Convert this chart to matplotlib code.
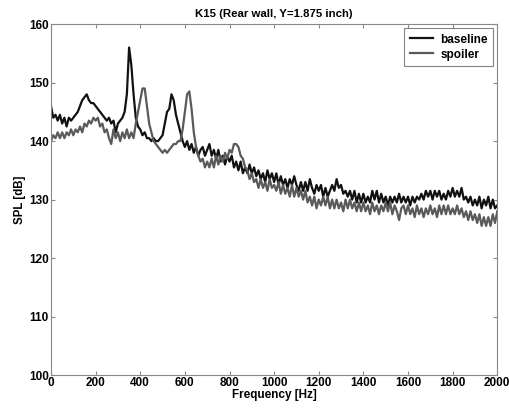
import numpy as np
import matplotlib
matplotlib.use("Agg")
import matplotlib.pyplot as plt

plt.rcParams['font.family'] = ['Liberation Sans', 'DejaVu Sans']
plt.rcParams['font.weight'] = 'bold'

freq = np.arange(0, 2001, 10)

baseline = [
    146, 144, 144.5, 143.5, 144.5, 143, 144, 142.5, 144, 143.5,
    144, 144.5, 145, 146, 147, 147.5, 148, 147, 146.5, 146.5,
    146, 145.5, 145, 144.5, 144, 143.5, 144, 143, 143.5, 141.5,
    143, 143.5, 144, 145, 148, 156, 153, 148, 144, 142.5,
    142, 141, 141.5, 140.5, 140.5, 140, 140.5, 140, 140, 140.5,
    141, 143, 145, 145.5, 148, 147, 144.5, 143, 141.5, 140,
    139, 140, 138.5, 139.5, 138, 139, 137.5, 138.5, 139, 137.5,
    138.5, 139.5, 137.5, 138.5, 137, 138.5, 136.5, 137.5, 136, 137.5,
    136.5, 137.5, 135.5, 136.5, 135, 136.5, 134.5, 135.5, 134.5, 136,
    134.5, 135.5, 134, 135, 133.5, 134.5, 133, 135, 133.5, 134.5,
    133, 134.5, 132.5, 134, 132.5, 133.5, 132, 133.5, 132.5, 134,
    132.5, 131.5, 133, 131.5, 133, 131.5, 133.5, 132, 131, 132.5,
    131.5, 132.5, 130.5, 132, 130.5, 131.5, 132.5, 131.5, 133.5, 132,
    132.5, 131, 131.5, 130.5, 131.5, 130, 131.5, 129.5, 131, 129.5,
    131, 129.5, 130.5, 129.5, 131.5, 130, 131.5, 129.5, 131, 129.5,
    130.5, 129, 130.5, 129.5, 130.5, 129.5, 131, 129.5, 130.5, 129.5,
    130.5, 129, 130.5, 129.5, 130.5, 130, 131, 130, 131.5, 130.5,
    131.5, 130, 131.5, 130.5, 131.5, 130, 131, 130, 131.5, 130.5,
    132, 130.5, 131.5, 130.5, 132, 130, 130.5, 129.5, 130.5, 129,
    130, 129, 130.5, 128.5, 130, 129, 130.5, 128.5, 130, 128.5,
    129,
]

spoiler = [
    140, 141, 140.5, 141.5, 140.5, 141.5, 140.5, 141.5, 141, 142,
    141, 142, 141.5, 142.5, 141.5, 143, 142.5, 143.5, 143, 144,
    143.5, 144, 142.5, 143, 141.5, 142, 140.5, 139.5, 142, 140.5,
    141.5, 140, 141.5, 140.5, 142, 140.5, 141.5, 140.5, 143, 145,
    147, 149, 149, 146, 143, 141.5, 140, 139.5, 139, 138.5,
    138, 138.5, 138, 138.5, 139, 139.5, 139.5, 140, 140, 142,
    145, 148, 148.5, 145.5, 141.5, 139, 137.5, 136.5, 137, 135.5,
    136.5, 135.5, 137, 135.5, 137.5, 136, 137.5, 136.5, 138, 137,
    138.5, 138, 139.5, 139.5, 139, 137.5, 137, 135.5, 135, 133.5,
    134.5, 133, 133.5, 132, 133.5, 132, 133, 131.5, 133.5, 132,
    132.5, 131.5, 133, 131, 132.5, 131, 132, 130.5, 132.5, 130.5,
    132, 130.5, 131.5, 130, 131.5, 129.5, 130.5, 129, 130.5, 128.5,
    130, 129, 130.5, 129, 130.5, 128.5, 130, 128.5, 130, 128.5,
    129.5, 128, 130, 128.5, 130, 128.5, 129.5, 128, 129.5, 128,
    129.5, 128, 129, 127.5, 129.5, 128, 129, 127.5, 129, 128,
    129.5, 128, 129.5, 127.5, 129, 128, 126.5, 128.5, 129, 127.5,
    129, 127.5, 128.5, 127, 129, 127.5, 128.5, 127, 128.5, 127.5,
    129, 127.5, 128.5, 127, 129, 127.5, 129, 127.5, 129, 127.5,
    128.5, 127.5, 129, 127.5, 128.5, 127, 128, 126.5, 128, 126.5,
    127.5, 126, 127.5, 125.5, 127, 125.5, 127, 125.5, 127.5, 126,
    128,
]

series_labels = ["baseline", "spoiler"]
title = "K15 (Rear wall, Y=1.875 inch)"
xticks = [0, 200, 400, 600, 800, 1000, 1200, 1400, 1600, 1800, 2000]
yticks = [100, 110, 120, 130, 140, 150, 160]

fig = plt.figure(figsize=(5.10, 4.09), dpi=100)
ax = fig.add_axes([0.100, 0.083, 0.875, 0.858])

ax.plot(freq, baseline, color='#111111', lw=1.6, label=series_labels[0])
ax.plot(freq, spoiler, color='#5a5a5a', lw=1.6, label=series_labels[1])

ax.set_xlim(0, 2000)
ax.set_ylim(100, 160)
ax.set_xticks(xticks)
ax.set_yticks(yticks)
ax.tick_params(labelsize=8.5, direction='in', length=3, color='#888888',
               top=True, right=True, pad=1.5)
for lab in ax.get_xticklabels() + ax.get_yticklabels():
    lab.set_fontweight('bold')
for s in ax.spines.values():
    s.set_color('#888888')
    s.set_linewidth(0.8)

ax.set_xlabel("Frequency [Hz]", fontsize=8.5, fontweight='bold', labelpad=0)
ax.set_ylabel("SPL [dB]", fontsize=8.3, fontweight='bold', labelpad=2)
ax.set_title(title, fontsize=8.2, fontweight='bold', pad=5)

leg = ax.legend(loc='upper right', fontsize=8.5, frameon=True, fancybox=False,
                edgecolor='#666666', handlelength=2.0, borderaxespad=0.35,
                labelspacing=0.25, borderpad=0.45, handletextpad=0.6)
leg.get_frame().set_linewidth(0.8)
for t in leg.get_texts():
    t.set_fontweight('bold')

fig.savefig("out.png", dpi=100)
